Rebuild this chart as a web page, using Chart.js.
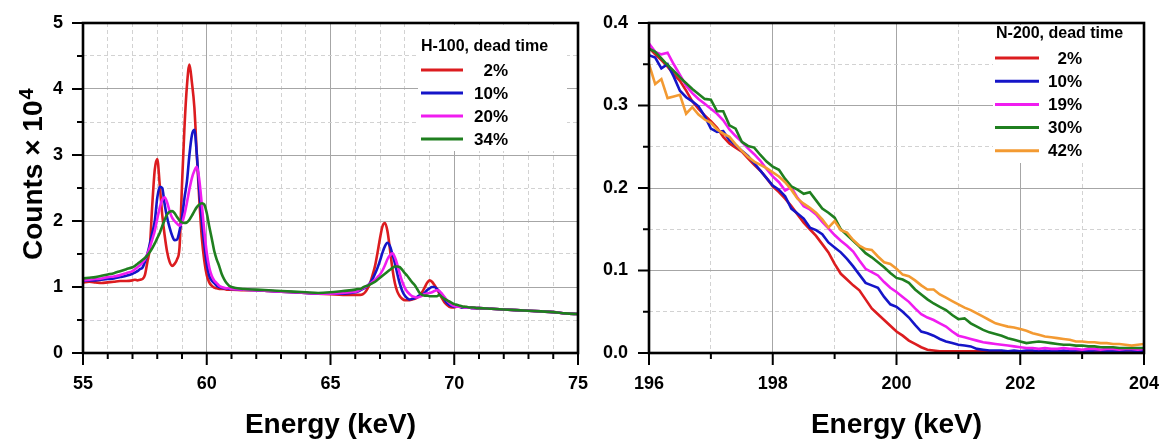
<!DOCTYPE html>
<html>
<head>
<meta charset="utf-8">
<script src="https://cdn.jsdelivr.net/npm/chart.js@4.4.0/dist/chart.umd.min.js"></script>
<style>
  html, body { margin: 0; padding: 0; background: #fff; }
  body { width: 1168px; height: 439px; position: relative; overflow: hidden; }
  .panel { position: absolute; top: 0; height: 439px; }
  #leftPanel { left: 0; width: 590px; }
  #rightPanel { left: 590px; width: 578px; }
</style>
</head>
<body>
<div class="panel" id="leftPanel"><canvas id="chartH"></canvas></div>
<div class="panel" id="rightPanel"><canvas id="chartN"></canvas></div>
<script>
// H-100 spectra (counts x 10^4), energy in keV
const energyH = [
  55, 55.25, 55.5, 55.75, 56, 56.25, 56.5, 56.75,
  57, 57.1, 57.2, 57.3, 57.4, 57.5, 57.6, 57.7, 57.8, 57.9,
  58, 58.1, 58.2, 58.3, 58.4, 58.5, 58.6, 58.7, 58.8, 58.9,
  59, 59.1, 59.2, 59.3, 59.4, 59.5, 59.6, 59.7, 59.8, 59.9,
  60, 60.1, 60.2, 60.3, 60.4, 60.5, 60.6, 60.7, 60.8, 60.9,
  61, 61.5, 62, 62.5, 63, 63.5, 64, 64.5, 65, 65.5,
  66, 66.1, 66.2, 66.3, 66.4, 66.5, 66.6, 66.7, 66.8, 66.9,
  67, 67.1, 67.2, 67.3, 67.4, 67.5, 67.6, 67.7, 67.8, 67.9,
  68, 68.1, 68.2, 68.3, 68.4, 68.5, 68.6, 68.7, 68.8, 68.9,
  69, 69.1, 69.2, 69.3, 69.4, 69.5, 69.6, 69.7, 69.8, 69.9,
  70, 70.1, 70.2, 70.3, 70.4, 70.5, 70.6, 70.7, 70.8, 70.9,
  71, 71.5, 72, 72.5, 73, 73.5, 74, 74.5, 75
];
const hDead = ['2%', '10%', '20%', '34%'];

const h2 = [
  1.07, 1.08, 1.07, 1.06, 1.07, 1.08, 1.09, 1.09,
  1.10, 1.11, 1.10, 1.11, 1.12, 1.18, 1.38, 1.60, 2.25, 2.78,
  2.94, 2.55, 2.10, 1.78, 1.53, 1.38, 1.32, 1.35, 1.42, 1.60,
  2.55, 3.42, 4.05, 4.37, 4.10, 3.72, 3.00, 2.32, 1.75, 1.40,
  1.18, 1.07, 1.02, 0.99, 0.98, 0.97, 0.97, 0.97, 0.96, 0.96,
  0.96, 0.95, 0.95, 0.94, 0.93, 0.92, 0.91, 0.90, 0.89, 0.88,
  0.88, 0.88, 0.88, 0.89, 0.92, 0.98, 1.06, 1.18, 1.32, 1.52,
  1.74, 1.92, 1.97, 1.85, 1.58, 1.28, 1.06, 0.93, 0.86, 0.82,
  0.80, 0.80, 0.80, 0.81, 0.82, 0.84, 0.87, 0.92, 0.99, 1.06,
  1.10, 1.08, 1.03, 0.97, 0.90, 0.83, 0.77, 0.73, 0.70, 0.69,
  0.69, 0.70, 0.70, 0.69, 0.70, 0.69, 0.69, 0.69, 0.68, 0.68,
  0.68, 0.67, 0.66, 0.65, 0.64, 0.63, 0.62, 0.60, 0.59
];
const h10 = [
  1.09, 1.10, 1.10, 1.11, 1.12, 1.13, 1.15, 1.17,
  1.20, 1.22, 1.24, 1.27, 1.29, 1.38, 1.50, 1.65, 1.82, 2.00,
  2.35, 2.52, 2.50, 2.25, 2.05, 1.90, 1.78, 1.71, 1.72, 1.85,
  2.05, 2.35, 2.60, 3.00, 3.30, 3.38, 3.00, 2.45, 2.00, 1.65,
  1.35, 1.17, 1.10, 1.06, 1.02, 1.00, 0.99, 0.98, 0.98, 0.97,
  0.97, 0.96, 0.95, 0.94, 0.93, 0.92, 0.91, 0.90, 0.90, 0.90,
  0.92, 0.93, 0.95, 0.97, 0.99, 1.02, 1.06, 1.12, 1.20, 1.29,
  1.40, 1.52, 1.62, 1.67, 1.62, 1.50, 1.36, 1.20, 1.05, 0.94,
  0.87, 0.83, 0.81, 0.82, 0.83, 0.85, 0.87, 0.88, 0.91, 0.95,
  0.98, 1.00, 1.00, 0.97, 0.93, 0.87, 0.81, 0.76, 0.73, 0.71,
  0.70, 0.70, 0.70, 0.69, 0.69, 0.69, 0.69, 0.68, 0.68, 0.68,
  0.68, 0.67, 0.66, 0.65, 0.64, 0.63, 0.62, 0.60, 0.59
];
const h20 = [
  1.10, 1.11, 1.12, 1.13, 1.15, 1.16, 1.18, 1.21,
  1.24, 1.27, 1.30, 1.33, 1.37, 1.42, 1.50, 1.60, 1.72, 1.85,
  2.03, 2.20, 2.32, 2.36, 2.28, 2.15, 2.05, 2.00, 1.96, 1.93,
  1.97, 2.10, 2.28, 2.48, 2.65, 2.76, 2.82, 2.62, 2.25, 1.85,
  1.52, 1.30, 1.17, 1.10, 1.06, 1.02, 1.00, 0.99, 0.98, 0.98,
  0.97, 0.96, 0.95, 0.94, 0.93, 0.92, 0.91, 0.90, 0.90, 0.91,
  0.93, 0.94, 0.96, 0.98, 1.00, 1.02, 1.05, 1.08, 1.11, 1.15,
  1.19, 1.25, 1.33, 1.42, 1.48, 1.51, 1.45, 1.34, 1.20, 1.08,
  0.99, 0.93, 0.89, 0.86, 0.85, 0.84, 0.85, 0.87, 0.89, 0.90,
  0.91, 0.92, 0.94, 0.95, 0.94, 0.90, 0.85, 0.80, 0.76, 0.73,
  0.71, 0.70, 0.70, 0.70, 0.69, 0.69, 0.69, 0.68, 0.68, 0.68,
  0.68, 0.67, 0.66, 0.65, 0.64, 0.63, 0.62, 0.60, 0.59
];
const h34 = [
  1.13, 1.14, 1.15, 1.17, 1.19, 1.21, 1.24, 1.27,
  1.30, 1.32, 1.35, 1.38, 1.41, 1.44, 1.48, 1.53, 1.59, 1.66,
  1.74, 1.82, 1.92, 2.02, 2.10, 2.14, 2.15, 2.12, 2.06, 2.01,
  1.98, 1.97, 1.98, 2.02, 2.08, 2.15, 2.21, 2.25, 2.27, 2.25,
  2.12, 1.92, 1.74, 1.55, 1.42, 1.32, 1.20, 1.12, 1.06, 1.02,
  1.00, 0.97, 0.96, 0.95, 0.94, 0.93, 0.92, 0.91, 0.92, 0.94,
  0.96, 0.97, 0.97, 0.99, 1.01, 1.02, 1.04, 1.06, 1.08, 1.11,
  1.14, 1.17, 1.20, 1.23, 1.26, 1.29, 1.31, 1.31, 1.30, 1.26,
  1.21, 1.17, 1.12, 1.07, 1.03, 0.97, 0.91, 0.88, 0.87, 0.87,
  0.86, 0.86, 0.86, 0.86, 0.88, 0.85, 0.82, 0.80, 0.78, 0.76,
  0.74, 0.73, 0.72, 0.71, 0.70, 0.70, 0.69, 0.69, 0.69, 0.68,
  0.68, 0.67, 0.66, 0.65, 0.64, 0.63, 0.62, 0.60, 0.59
];

// N-200 spectra (counts x 10^4), energy in keV
const energyN = [
  196.0, 196.1, 196.2, 196.3, 196.4, 196.5, 196.6, 196.7, 196.8, 196.9,
  197.0, 197.1, 197.2, 197.3, 197.4, 197.5, 197.6, 197.7, 197.8, 197.9,
  198.0, 198.1, 198.2, 198.3, 198.4, 198.5, 198.6, 198.7, 198.8, 198.9,
  199.0, 199.1, 199.2, 199.3, 199.4, 199.5, 199.6, 199.7, 199.8, 199.9,
  200.0, 200.1, 200.2, 200.3, 200.4, 200.5, 200.6, 200.7, 200.8, 200.9,
  201.0, 201.1, 201.2, 201.3, 201.4, 201.5, 201.6, 201.7, 201.8, 201.9,
  202.0, 202.1, 202.2, 202.3, 202.4, 202.5, 202.6, 202.7, 202.8, 202.9,
  203.0, 203.1, 203.2, 203.3, 203.4, 203.5, 203.6, 203.7, 203.8, 203.9,
  204.0
];
const nDead = ['2%', '10%', '19%', '30%', '42%'];

const n2 = [
  0.370, 0.362, 0.355, 0.347, 0.338, 0.330, 0.318, 0.305, 0.296, 0.288,
  0.281, 0.273, 0.262, 0.254, 0.249, 0.244, 0.236, 0.228, 0.221, 0.212,
  0.202, 0.195, 0.187, 0.178, 0.168, 0.158, 0.150, 0.142, 0.132, 0.122,
  0.108, 0.096, 0.089, 0.082, 0.076, 0.065, 0.054, 0.047, 0.040, 0.033,
  0.026, 0.021, 0.015, 0.011, 0.007, 0.004, 0.003, 0.002, 0.002, 0.002,
  0.002, 0.002, 0.002, 0.002, 0.002, 0.002, 0.002, 0.002, 0.002, 0.002,
  0.002, 0.002, 0.002, 0.002, 0.002, 0.002, 0.002, 0.002, 0.002, 0.002,
  0.002, 0.002, 0.002, 0.002, 0.002, 0.002, 0.002, 0.002, 0.002, 0.002,
  0.002
];
const n10 = [
  0.361, 0.358, 0.345, 0.350, 0.335, 0.318, 0.310, 0.305, 0.299, 0.287,
  0.272, 0.268, 0.269, 0.258, 0.252, 0.245, 0.239, 0.230, 0.221, 0.212,
  0.203, 0.198, 0.190, 0.175, 0.169, 0.163, 0.152, 0.149, 0.144, 0.134,
  0.128, 0.122, 0.114, 0.105, 0.095, 0.085, 0.082, 0.079, 0.068, 0.059,
  0.056, 0.050, 0.043, 0.034, 0.026, 0.024, 0.021, 0.017, 0.014, 0.012,
  0.010, 0.009, 0.008, 0.005, 0.004, 0.003, 0.003, 0.003, 0.002, 0.003,
  0.002, 0.003, 0.003, 0.002, 0.003, 0.002, 0.002, 0.003, 0.002, 0.003,
  0.003, 0.002, 0.003, 0.003, 0.002, 0.003, 0.002, 0.003, 0.003, 0.002,
  0.003
];
const n19 = [
  0.375, 0.365, 0.362, 0.364, 0.350, 0.337, 0.324, 0.315, 0.308, 0.302,
  0.296, 0.290, 0.282, 0.271, 0.263, 0.256, 0.248, 0.241, 0.233, 0.223,
  0.214, 0.207, 0.197, 0.201, 0.188, 0.178, 0.174, 0.168, 0.159, 0.151,
  0.143, 0.136, 0.130, 0.123, 0.112, 0.102, 0.098, 0.094, 0.086, 0.079,
  0.074, 0.068, 0.062, 0.054, 0.047, 0.043, 0.040, 0.036, 0.032, 0.026,
  0.021, 0.019, 0.017, 0.015, 0.013, 0.012, 0.011, 0.010, 0.009, 0.008,
  0.007, 0.006, 0.006, 0.005, 0.006, 0.005, 0.005, 0.006, 0.005, 0.005,
  0.004, 0.005, 0.005, 0.004, 0.005, 0.005, 0.004, 0.005, 0.005, 0.004,
  0.005
];
const n30 = [
  0.369, 0.365, 0.357, 0.349, 0.342, 0.334, 0.327, 0.320, 0.314, 0.308,
  0.307, 0.293, 0.293, 0.276, 0.272, 0.256, 0.251, 0.249, 0.240, 0.232,
  0.226, 0.222, 0.211, 0.202, 0.198, 0.193, 0.195, 0.185, 0.175, 0.170,
  0.164, 0.150, 0.143, 0.136, 0.129, 0.121, 0.116, 0.110, 0.104, 0.097,
  0.091, 0.089, 0.085, 0.077, 0.071, 0.065, 0.060, 0.056, 0.052, 0.046,
  0.041, 0.042, 0.036, 0.032, 0.028, 0.025, 0.023, 0.021, 0.018, 0.016,
  0.014, 0.012, 0.013, 0.014, 0.013, 0.012, 0.011, 0.010, 0.010, 0.009,
  0.009, 0.008, 0.008, 0.007, 0.007, 0.007, 0.006, 0.006, 0.006, 0.006,
  0.006
];
const n42 = [
  0.350, 0.326, 0.332, 0.309, 0.311, 0.313, 0.290, 0.298, 0.289, 0.283,
  0.279, 0.271, 0.266, 0.262, 0.253, 0.245, 0.238, 0.232, 0.228, 0.224,
  0.219, 0.214, 0.207, 0.198, 0.187, 0.181, 0.176, 0.170, 0.162, 0.152,
  0.160, 0.149, 0.146, 0.137, 0.130, 0.126, 0.125, 0.117, 0.110, 0.108,
  0.102, 0.095, 0.093, 0.088, 0.082, 0.077, 0.077, 0.071, 0.067, 0.063,
  0.059, 0.055, 0.052, 0.048, 0.044, 0.040, 0.036, 0.034, 0.032, 0.031,
  0.029, 0.027, 0.024, 0.022, 0.020, 0.019, 0.018, 0.017, 0.016, 0.014,
  0.014, 0.013, 0.013, 0.012, 0.012, 0.011, 0.011, 0.010, 0.009, 0.010,
  0.011
];

const FONT = '"Liberation Sans", Arial, sans-serif';
Chart.defaults.font.family = FONT;
Chart.defaults.color = '#000';

function pts(xs, ys) {
    return xs.map((x, i) => ({ x: x, y: ys[i] }));
}

// white legend box drawn inside the plot area
const boxLegend = {
    id: 'boxLegend',
    afterDatasetsDraw(chart, args, o) {
        const ctx = chart.ctx;
        ctx.save();
        ctx.fillStyle = '#fff';
        ctx.fillRect(o.boxX, o.boxY, o.boxW, o.boxH);
        ctx.fillStyle = '#000';
        ctx.textBaseline = 'middle';
        ctx.textAlign = 'left';
        ctx.font = 'bold 16px ' + FONT;
        ctx.fillText(o.title, o.titleX, o.titleY);
        ctx.font = 'bold 17px ' + FONT;
        ctx.textAlign = 'right';
        chart.data.datasets.forEach((ds, i) => {
            const y = o.rowY + i * o.rowStep;
            ctx.strokeStyle = ds.borderColor;
            ctx.lineWidth = 3;
            ctx.beginPath();
            ctx.moveTo(o.lineX1, y);
            ctx.lineTo(o.lineX2, y);
            ctx.stroke();
            ctx.fillText(ds.label, o.labelX, y + 1);
        });
        ctx.restore();
    }
};

// black frame, outward major/minor tick marks, y title with a real superscript
const frameTicks = {
    id: 'frameTicks',
    afterDraw(chart, args, o) {
        const { ctx, chartArea: a, scales } = chart;
        ctx.save();
        ctx.strokeStyle = '#000';
        ctx.lineWidth = 2;
        ctx.beginPath();
        scales.x.ticks.forEach(t => {
            const px = scales.x.getPixelForValue(t.value);
            const len = t.label !== '' ? 12 : 6;
            ctx.moveTo(px, a.bottom);
            ctx.lineTo(px, a.bottom + len);
        });
        scales.y.ticks.forEach(t => {
            const py = scales.y.getPixelForValue(t.value);
            const len = t.label !== '' ? 11 : 6;
            ctx.moveTo(a.left, py);
            ctx.lineTo(a.left - len, py);
        });
        ctx.stroke();
        ctx.lineWidth = 2.6;
        ctx.strokeRect(a.left, a.top, a.right - a.left, a.bottom - a.top);

        if (o.yTitle) {
            ctx.fillStyle = '#000';
            ctx.translate(o.yTitleX, o.yTitleY);
            ctx.rotate(-Math.PI / 2);
            ctx.textAlign = 'left';
            ctx.textBaseline = 'alphabetic';
            ctx.font = 'bold 28px ' + FONT;
            ctx.fillText(o.yTitle, 0, 0);
            const w = ctx.measureText(o.yTitle).width;
            ctx.font = 'bold 20px ' + FONT;
            ctx.fillText(o.yPower, w + 1, -9);
        }
        ctx.restore();
    }
};

function gridOpts(isMajor) {
    return {
        grid: {
            drawTicks: false,
            lineWidth: 1,
            color: c => (c.tick && isMajor(c.tick.value)) ? '#a6a6a6' : '#d2d2d2'
        },
        border: {
            display: false,
            dash: c => (c.tick && !isMajor(c.tick.value)) ? [4, 3] : []
        }
    };
}

function lineSet(label, values, xs, color, order) {
    return {
        label: label,
        data: pts(xs, values),
        borderColor: color,
        backgroundColor: color,
        borderWidth: 2.6,
        pointRadius: 0,
        fill: false,
        order: order
    };
}

const tickFont = { size: 18, weight: 'bold' };
const titleFont = { size: 28, weight: 'bold', lineHeight: 0.95 };

// the label overhang padding is dropped so the layout padding alone sets the plot box
function fixX(h) {
    return s => { s.height = h; s.paddingLeft = 0; s.paddingRight = 0; };
}
function fixY(w) {
    return s => { s.width = w; s.paddingTop = 0; s.paddingBottom = 0; };
}

// left panel
const hMajX = v => Math.abs(v % 5) < 1e-6;
const hMajY = v => Math.abs(v - Math.round(v)) < 1e-6;
new Chart(document.getElementById('chartH'), {
    type: 'line',
    data: {
        datasets: [
            lineSet(hDead[0], h2, energyH, '#dc1c1f', 3),
            lineSet(hDead[1], h10, energyH, '#1515c8', 2),
            lineSet(hDead[2], h20, energyH, '#f01cf0', 1),
            lineSet(hDead[3], h34, energyH, '#1f7f1f', 0)
        ]
    },
    options: {
        responsive: true,
        maintainAspectRatio: false,
        animation: false,
        devicePixelRatio: 1,
        layout: { padding: { left: 0, top: 23, right: 12, bottom: 0 } },
        elements: { line: { cubicInterpolationMode: 'monotone' } },
        plugins: {
            legend: { display: false },
            tooltip: { enabled: false },
            boxLegend: {
                title: 'H-100, dead time',
                boxX: 418, boxY: 25, boxW: 149, boxH: 126,
                titleX: 421, titleY: 47,
                lineX1: 421, lineX2: 463, labelX: 508,
                rowY: 70, rowStep: 23
            },
            frameTicks: { yTitle: 'Counts × 10', yPower: '4', yTitleX: 42, yTitleY: 260 }
        },
        scales: {
            x: Object.assign({
                type: 'linear', min: 55, max: 75,
                afterFit: fixX(86),
                ticks: {
                    stepSize: 1, autoSkip: false, maxRotation: 0, padding: 20,
                    font: tickFont,
                    callback: v => hMajX(v) ? String(v) : ''
                },
                title: { display: true, text: 'Energy (keV)', font: titleFont, padding: { top: 0, bottom: 0 } }
            }, gridOpts(hMajX)),
            y: Object.assign({
                type: 'linear', min: 0, max: 5,
                afterFit: fixY(83),
                ticks: {
                    stepSize: 0.5, autoSkip: false, padding: 20,
                    font: tickFont,
                    callback: v => hMajY(v) ? String(Math.round(v)) : ''
                }
            }, gridOpts(hMajY))
        }
    },
    plugins: [boxLegend, frameTicks]
});

// right panel
const nMajX = v => Math.abs(v % 2) < 1e-6;
const nMajY = v => Math.abs(v * 10 - Math.round(v * 10)) < 1e-6;
new Chart(document.getElementById('chartN'), {
    type: 'line',
    data: {
        datasets: [
            lineSet(nDead[0], n2, energyN, '#dc1c1f', 4),
            lineSet(nDead[1], n10, energyN, '#1515c8', 3),
            lineSet(nDead[2], n19, energyN, '#f01cf0', 2),
            lineSet(nDead[3], n30, energyN, '#1f7f1f', 1),
            lineSet(nDead[4], n42, energyN, '#f39a32', 0)
        ]
    },
    options: {
        responsive: true,
        maintainAspectRatio: false,
        animation: false,
        devicePixelRatio: 1,
        layout: { padding: { left: 0, top: 23, right: 24, bottom: 0 } },
        plugins: {
            legend: { display: false },
            tooltip: { enabled: false },
            boxLegend: {
                title: 'N-200, dead time',
                boxX: 403, boxY: 25, boxW: 150, boxH: 138,
                titleX: 406, titleY: 34,
                lineX1: 405, lineX2: 449, labelX: 492,
                rowY: 58, rowStep: 23.2
            },
            frameTicks: {}
        },
        scales: {
            x: Object.assign({
                type: 'linear', min: 196, max: 204,
                afterFit: fixX(86),
                ticks: {
                    stepSize: 1, autoSkip: false, maxRotation: 0, padding: 20,
                    font: tickFont,
                    callback: v => nMajX(v) ? String(Math.round(v)) : ''
                },
                title: { display: true, text: 'Energy (keV)', font: titleFont, padding: { top: 0, bottom: 0 } }
            }, gridOpts(nMajX)),
            y: Object.assign({
                type: 'linear', min: 0, max: 0.4,
                afterFit: fixY(59),
                ticks: {
                    stepSize: 0.05, autoSkip: false, padding: 21,
                    font: tickFont,
                    callback: v => nMajY(v) ? v.toFixed(1) : ''
                }
            }, gridOpts(nMajY))
        }
    },
    plugins: [boxLegend, frameTicks]
});
</script>
</body>
</html>
